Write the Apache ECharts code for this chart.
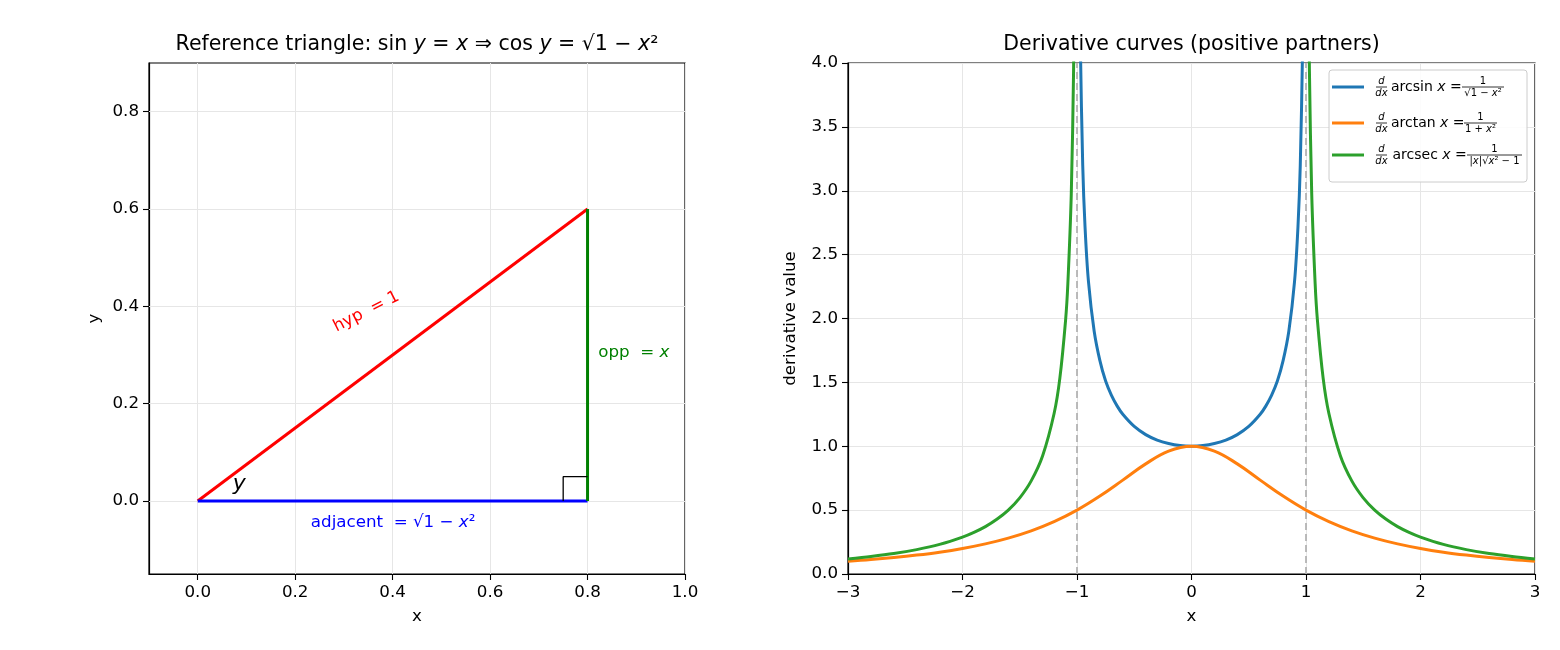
<!DOCTYPE html>
<html>
<head>
<meta charset="utf-8">
<title>Reference triangle and derivative curves</title>
<script src="https://cdn.jsdelivr.net/npm/echarts@6/dist/echarts.min.js"></script>
<style>
  html, body { margin: 0; padding: 0; background: #ffffff; }
  #chart { width: 1560px; height: 650px; }
</style>
</head>
<body>
<div id="chart"></div>
<script>
// ---- left panel: reference triangle for x = 0.8 ----
const hypX = [0, 0.8], hypY = [0, 0.6];
const adjX = [0, 0.8], adjY = [0, 0];
const oppX = [0.8, 0.8], oppY = [0, 0.6];
const cornerX = [0.75, 0.75, 0.8], cornerY = [0, 0.05, 0.05];
const leftXTicks = [0, 0.2, 0.4, 0.6, 0.8, 1.0];
const leftYTicks = [0, 0.2, 0.4, 0.6, 0.8];

// ---- right panel: derivative curves ----
const arcsinX = [-0.99, -0.98, -0.97, -0.95, -0.93, -0.9, -0.85, -0.8, -0.75, -0.7, -0.65, -0.6, -0.5, -0.4, -0.3, -0.2, -0.1, 0,
                 0.1, 0.2, 0.3, 0.4, 0.5, 0.6, 0.65, 0.7, 0.75, 0.8, 0.85, 0.9, 0.93, 0.95, 0.97, 0.98, 0.99];
const arcsinY = [7.09, 5.03, 4.11, 3.20, 2.72, 2.29, 1.90, 1.67, 1.51, 1.40, 1.316, 1.25, 1.155, 1.091, 1.048, 1.021, 1.005, 1,
                 1.005, 1.021, 1.048, 1.091, 1.155, 1.25, 1.316, 1.40, 1.51, 1.67, 1.90, 2.29, 2.72, 3.20, 4.11, 5.03, 7.09];

const arctanX = [-3, -2.8, -2.6, -2.4, -2.2, -2, -1.8, -1.6, -1.4, -1.2, -1, -0.8, -0.6, -0.4, -0.2, 0,
                 0.2, 0.4, 0.6, 0.8, 1, 1.2, 1.4, 1.6, 1.8, 2, 2.2, 2.4, 2.6, 2.8, 3];
const arctanY = [0.1, 0.113, 0.129, 0.148, 0.171, 0.2, 0.236, 0.281, 0.338, 0.410, 0.5, 0.610, 0.735, 0.862, 0.962, 1,
                 0.962, 0.862, 0.735, 0.610, 0.5, 0.410, 0.338, 0.281, 0.236, 0.2, 0.171, 0.148, 0.129, 0.113, 0.1];

const arcsecLeftX = [-3, -2.8, -2.6, -2.4, -2.2, -2, -1.9, -1.8, -1.7, -1.6, -1.5, -1.4, -1.3, -1.2, -1.15, -1.1, -1.08, -1.05, -1.03, -1.02, -1.01];
const arcsecLeftY = [0.118, 0.137, 0.160, 0.191, 0.232, 0.289, 0.326, 0.371, 0.428, 0.500, 0.596, 0.729, 0.926, 1.256, 1.531, 1.984, 2.270, 2.975, 3.934, 4.878, 6.98];
const arcsecRightX = [1.01, 1.02, 1.03, 1.05, 1.08, 1.1, 1.15, 1.2, 1.3, 1.4, 1.5, 1.6, 1.7, 1.8, 1.9, 2, 2.2, 2.4, 2.6, 2.8, 3];
const arcsecRightY = [6.98, 4.878, 3.934, 2.975, 2.270, 1.984, 1.531, 1.256, 0.926, 0.729, 0.596, 0.500, 0.428, 0.371, 0.326, 0.289, 0.232, 0.191, 0.160, 0.137, 0.118];
const asymptotes = [-1, 1];

const FONT = 'DejaVu Sans';
const zip = (xs, ys) => xs.map((x, i) => [x, ys[i]]);
const minus = v => (v < 0 ? '\u2212' + Math.abs(v) : String(v));

const chart = echarts.init(document.getElementById('chart'));

const axisCommon = {
  type: 'value',
  axisLine: { show: true, onZero: false, lineStyle: { color: '#000', width: 1.2 } },
  axisTick: { show: true, inside: false, length: 6, lineStyle: { color: '#000', width: 1.1 } },
  axisLabel: { color: '#000', fontSize: 16.7, fontFamily: FONT, margin: 10 },
  nameLocation: 'middle',
  nameTextStyle: { color: '#000', fontSize: 16.7, fontFamily: FONT }
};

// text labels inside the triangle panel (data coordinates)
const triLabels = [
  { value: [0.346, 0.389], text: 'hyp  = 1', color: '#ff0000', size: 16.7, rotate: 27 },
  { value: [0.895, 0.304], text: 'opp  = {i|x}', color: '#008000', size: 16.7, rotate: 0 },
  { value: [0.401, -0.045], text: 'adjacent  = \u221a1 \u2212 {i|x}\u00b2', color: '#0000ff', size: 16.7, rotate: 0 },
  { value: [0.085, 0.035], text: '{i|y}', color: '#000000', size: 22, rotate: 0 }
];

// hand-built legend for the right panel (mathtext style fractions)
function txt(x, y, text, size, align, vAlign, color) {
  return {
    type: 'text', x: x, y: y, z: 101,
    style: {
      text: text, fill: color || '#000', fontSize: size, fontFamily: FONT,
      align: align, verticalAlign: vAlign,
      rich: { i: { fontStyle: 'italic', fontSize: size, fontFamily: FONT, fill: color || '#000' } }
    }
  };
}
function bar(x1, x2, y) {
  return { type: 'line', z: 101, shape: { x1: x1, y1: y, x2: x2, y2: y }, style: { stroke: '#000', lineWidth: 0.8 } };
}
function legendEntry(y0, color, fname, den, bx1, bx2, textX) {
  const cx = (bx1 + bx2) / 2;
  return [
    { type: 'line', z: 101, shape: { x1: 1332, y1: y0, x2: 1364, y2: y0 }, style: { stroke: color, lineWidth: 3 } },
    txt(1381.5, y0 - 1, '{i|d}', 10, 'center', 'bottom'),
    bar(1376, 1387, y0),
    txt(1381.5, y0 + 1.5, '{i|dx}', 10, 'center', 'top'),
    txt(textX, y0, fname + ' {i|x} =', 14, 'left', 'middle'),
    txt(cx, y0 - 1, '1', 10, 'center', 'bottom'),
    bar(bx1, bx2, y0),
    txt(cx, y0 + 1.5, den, 10, 'center', 'top')
  ];
}

const graphic = [
  txt(417, 45, 'Reference triangle: sin {i|y} = {i|x} \u21d2 cos {i|y} = \u221a1 \u2212 {i|x}\u00b2', 20.5, 'center', 'middle'),
  txt(1191.5, 45, 'Derivative curves (positive partners)', 20.5, 'center', 'middle'),
  {
    type: 'rect', z: 100,
    shape: { x: 1329, y: 70, width: 198, height: 112, r: 3 },
    style: { fill: 'rgba(255,255,255,0.85)', stroke: '#cccccc', lineWidth: 1 }
  }
].concat(
  legendEntry(87, '#1f77b4', 'arcsin', '\u221a1 \u2212 {i|x}\u00b2', 1462, 1504, 1391),
  legendEntry(123, '#ff7f0e', 'arctan', '1 + {i|x}\u00b2', 1464, 1497, 1391),
  legendEntry(155, '#2ca02c', 'arcsec', '|{i|x}|\u221a{i|x}\u00b2 \u2212 1', 1467, 1522, 1392.5)
);

const option = {
  animation: false,
  backgroundColor: '#ffffff',
  textStyle: { fontFamily: FONT },
  grid: [
    { left: 149, top: 63, width: 536, height: 511, show: true, borderColor: '#000', borderWidth: 1.2, backgroundColor: 'transparent' },
    { left: 848, top: 63, width: 687, height: 511, show: true, borderColor: '#000', borderWidth: 1.2, backgroundColor: 'transparent' }
  ],
  xAxis: [
    Object.assign({}, axisCommon, {
      gridIndex: 0, min: -0.1, max: 1.0, name: 'x', nameGap: 34,
      axisTick: Object.assign({}, axisCommon.axisTick, { customValues: leftXTicks }),
      axisLabel: Object.assign({}, axisCommon.axisLabel, { customValues: leftXTicks, formatter: v => v.toFixed(1) }),
      splitLine: { show: false }
    }),
    Object.assign({}, axisCommon, {
      gridIndex: 1, min: -3, max: 3, interval: 1, name: 'x', nameGap: 34,
      axisLabel: Object.assign({}, axisCommon.axisLabel, { formatter: v => minus(v) }),
      splitLine: { show: true, lineStyle: { color: '#e6e6e6', width: 1 } }
    })
  ],
  yAxis: [
    Object.assign({}, axisCommon, {
      gridIndex: 0, min: -0.15, max: 0.9, name: 'y', nameGap: 46,
      axisTick: Object.assign({}, axisCommon.axisTick, { customValues: leftYTicks }),
      axisLabel: Object.assign({}, axisCommon.axisLabel, { customValues: leftYTicks, formatter: v => v.toFixed(1) }),
      splitLine: { show: false }
    }),
    Object.assign({}, axisCommon, {
      gridIndex: 1, min: 0, max: 4, interval: 0.5, name: 'derivative value', nameGap: 49,
      axisLabel: Object.assign({}, axisCommon.axisLabel, { formatter: v => v.toFixed(1) }),
      splitLine: { show: true, lineStyle: { color: '#e6e6e6', width: 1 } }
    })
  ],
  series: [
    {
      // grid lines for the triangle panel (its ticks do not start at min)
      type: 'line', xAxisIndex: 0, yAxisIndex: 0, data: [], silent: true, z: 1,
      markLine: {
        z: 1, silent: true, symbol: ['none', 'none'], label: { show: false },
        lineStyle: { color: '#e6e6e6', width: 1, type: 'solid' },
        data: leftXTicks.map(v => ({ xAxis: v })).concat(leftYTicks.map(v => ({ yAxis: v })))
      }
    },
    { type: 'line', xAxisIndex: 0, yAxisIndex: 0, data: zip(hypX, hypY), symbol: 'none', z: 6,
      lineStyle: { color: '#ff0000', width: 3 } },
    { type: 'line', xAxisIndex: 0, yAxisIndex: 0, data: zip(adjX, adjY), symbol: 'none', z: 6,
      lineStyle: { color: '#0000ff', width: 3 } },
    { type: 'line', xAxisIndex: 0, yAxisIndex: 0, data: zip(oppX, oppY), symbol: 'none', z: 6,
      lineStyle: { color: '#008000', width: 3 } },
    { type: 'line', xAxisIndex: 0, yAxisIndex: 0, data: zip(cornerX, cornerY), symbol: 'none', z: 6,
      lineStyle: { color: '#000000', width: 1.3 } },
    {
      type: 'scatter', xAxisIndex: 0, yAxisIndex: 0, symbolSize: 1, z: 7, silent: true,
      itemStyle: { color: 'rgba(0,0,0,0)' },
      data: triLabels.map(d => ({
        value: d.value,
        label: {
          show: true, position: 'inside', formatter: d.text, rotate: d.rotate,
          color: d.color, fontSize: d.size, fontFamily: FONT, opacity: 1,
          textBorderWidth: 0, textBorderColor: 'transparent',
          rich: { i: { fontStyle: 'italic', fontSize: d.size, fontFamily: FONT, color: d.color,
                       textBorderWidth: 0, textBorderColor: 'transparent' } }
        }
      }))
    },
    { type: 'line', xAxisIndex: 1, yAxisIndex: 1, data: zip(arcsinX, arcsinY), symbol: 'none', smooth: 0.3, z: 3,
      lineStyle: { color: '#1f77b4', width: 3 } },
    { type: 'line', xAxisIndex: 1, yAxisIndex: 1, data: zip(arctanX, arctanY), symbol: 'none', smooth: 0.4, z: 3,
      lineStyle: { color: '#ff7f0e', width: 3 } },
    { type: 'line', xAxisIndex: 1, yAxisIndex: 1, data: zip(arcsecLeftX, arcsecLeftY), symbol: 'none', smooth: 0.3, z: 3,
      lineStyle: { color: '#2ca02c', width: 3 } },
    { type: 'line', xAxisIndex: 1, yAxisIndex: 1, data: zip(arcsecRightX, arcsecRightY), symbol: 'none', smooth: 0.3, z: 3,
      lineStyle: { color: '#2ca02c', width: 3 } },
    {
      type: 'line', xAxisIndex: 1, yAxisIndex: 1, data: [], silent: true, z: 4,
      markLine: {
        silent: true, symbol: ['none', 'none'], label: { show: false },
        lineStyle: { color: '#b0b0b0', width: 1.7, type: [7, 4] },
        data: asymptotes.map(v => ({ xAxis: v }))
      }
    }
  ],
  graphic: graphic
};

chart.setOption(option);
</script>
</body>
</html>
